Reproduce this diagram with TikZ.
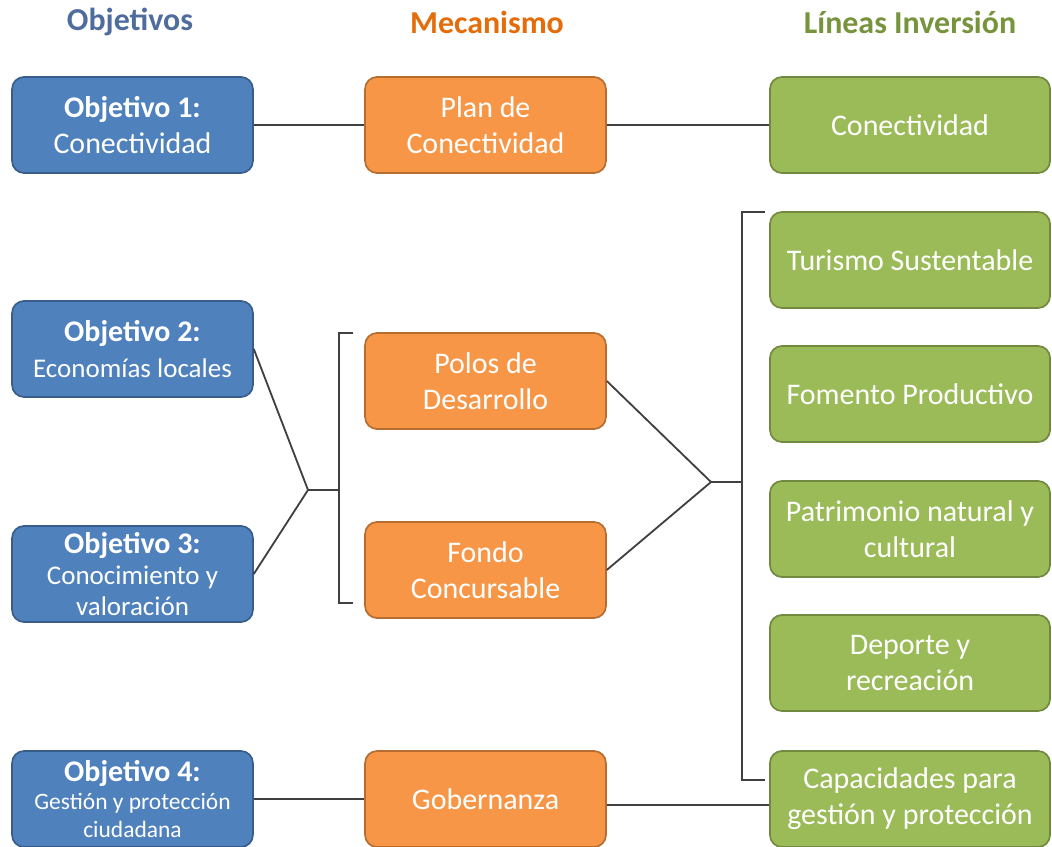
\documentclass[tikz,border=0pt]{standalone}
\usepackage{fontspec}
\setmainfont{Carlito}
\usetikzlibrary{positioning}
\definecolor{objfill}{HTML}{4F81BD}
\definecolor{objdraw}{HTML}{385D8A}
\definecolor{mecfill}{HTML}{F79646}
\definecolor{mecdraw}{HTML}{B66D31}
\definecolor{linfill}{HTML}{9BBB59}
\definecolor{lindraw}{HTML}{71893F}
\definecolor{hobj}{HTML}{4E6D9E}
\definecolor{hmec}{HTML}{E46C0A}
\definecolor{hlin}{HTML}{77933C}
\definecolor{conncol}{HTML}{404040}
\newcommand{\objtitle}[1]{{\fontsize{21.3}{25.6}\selectfont\bfseries #1}}

\begin{document}
\begin{tikzpicture}[x=0.025cm,y=-0.025cm,
  box/.style={rectangle,rounded corners=0.3cm,line width=1.2pt,minimum height=2.4cm,
    align=center,text=white,inner sep=0pt,font=\fontsize{21.3}{25.6}\selectfont},
  obj/.style={box,fill=objfill,draw=objdraw,minimum width=6.02cm},
  mec/.style={box,fill=mecfill,draw=mecdraw,minimum width=6.02cm},
  lin/.style={box,fill=linfill,draw=lindraw,minimum width=7cm},
  head/.style={font=\fontsize{22.7}{27}\selectfont\bfseries},
  conn/.style={draw=conncol,line width=1.3pt},
  smalltxt/.style={font=\fontsize{19.2}{21.8}\selectfont},
  tinytxt/.style={font=\fontsize{16.7}{20.2}\selectfont}]
\useasboundingbox (0,0) rectangle (1052,847);

% headers
\node[head,text=hobj] (hobj) at (130,22) {Objetivos};
\node[head,text=hmec] (hmec) at (487,22) {Mecanismo};
\node[head,text=hlin] (hlin) at (910,22) {Líneas Inversión};

% objetivos
\node[obj] (o1) at (132.5,125) {\objtitle{Objetivo 1:}\\Conectividad};
\node[obj] (o2) at (132.5,349) {\objtitle{Objetivo 2:}\\{\fontsize{19.2}{23}\selectfont Economías locales}};
\node[obj,smalltxt] (o3) at (132.5,574) {\objtitle{Objetivo 3:}\\Conocimiento y\\valoración};
\node[obj,tinytxt] (o4) at (132.5,799) {\objtitle{Objetivo 4:}\\Gestión y protección\\ciudadana};

% mecanismos
\node[mec] (m1) at (485.5,125) {Plan de\\Conectividad};
\node[mec] (m2) at (485.5,381) {Polos de\\Desarrollo};
\node[mec] (m3) at (485.5,570) {Fondo\\Concursable};
\node[mec] (m4) at (485.5,799) {Gobernanza};

% lineas de inversion
\node[lin] (l1) at (910,125) {Conectividad};
\node[lin] (l2) at (910,260) {Turismo Sustentable};
\node[lin] (l3) at (910,394) {Fomento Productivo};
\node[lin] (l4) at (910,529) {Patrimonio natural y\\cultural};
\node[lin] (l5) at (910,663) {Deporte y\\recreación};
\node[lin] (l6) at (910,799) {Capacidades para\\gestión y protección};

% connectors
\draw[conn] (o1) -- (m1);
\draw[conn] (m1) -- (l1);
\coordinate (jl) at (308,490);
\coordinate (bl) at (339,490);
\draw[conn] (o2.east) -- (jl) -- (o3.east);
\draw[conn] (jl) -- (bl);
\draw[conn] (353,333) -| (bl) |- (353,603);
\coordinate (jr) at (711,482);
\coordinate (br) at (742,482);
\draw[conn] (m2.east) -- (jr) -- (m3.east);
\draw[conn] (jr) -- (br);
\draw[conn] (765,212) -| (br) |- (765,780);
\draw[conn] (o4) -- (m4);
\draw[conn] ([yshift=-4.3pt]m4.east) -- ([yshift=-4.3pt]l6.west);
\end{tikzpicture}
\end{document}
